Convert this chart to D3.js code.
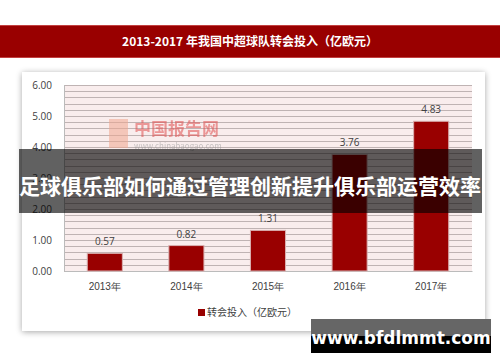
<!DOCTYPE html>
<html><head><meta charset="utf-8">
<script src="https://cdn.jsdelivr.net/npm/d3@7"></script>
<style>
html,body{margin:0;padding:0;background:#fff;}
svg{display:block;font-family:"Noto Sans CJK SC","Noto Sans",sans-serif;}
</style></head>
<body>
<script>
const categories = ["2013年","2014年","2015年","2016年","2017年"];
const values = [0.57, 0.82, 1.31, 3.76, 4.83];
const yTicks = [0,1,2,3,4,5,6];
const title = "2013-2017 年我国中超球队转会投入（亿欧元）";
const seriesName = "转会投入（亿欧元）";
const overlayText = "足球俱乐部如何通过管理创新提升俱乐部运营效率";
const siteText = "www.bfdlmmt.com";

const W = 500, H = 362;
const svg = d3.select("body").append("svg").attr("width", W).attr("height", H);
const defs = svg.append("defs");
const f = defs.append("filter").attr("id","sh").attr("x","-10%").attr("y","-10%").attr("width","120%").attr("height","120%");
f.append("feGaussianBlur").attr("in","SourceAlpha").attr("stdDeviation",3);
f.append("feOffset").attr("dx",0).attr("dy",1).attr("result","b");
f.append("feComponentTransfer").append("feFuncA").attr("type","linear").attr("slope",0.35);
const fm = f.append("feMerge"); fm.append("feMergeNode"); fm.append("feMergeNode").attr("in","SourceGraphic");

// title band
svg.append("rect").attr("x",0).attr("y",25).attr("width",W).attr("height",33).attr("fill","#990000");
svg.append("line").attr("x1",0).attr("x2",W).attr("y1",25.5).attr("y2",25.5).attr("stroke","#c24040");
svg.append("line").attr("x1",0).attr("x2",W).attr("y1",57.5).attr("y2",57.5).attr("stroke","#c24040");
svg.append("text").attr("x",W/2).attr("y",46).attr("text-anchor","middle").attr("fill","#fff")
  .attr("font-size",12).attr("font-weight","bold").text(title);

// panel
svg.append("rect").attr("x",22).attr("y",72).attr("width",463).attr("height",259).attr("fill","#fff").attr("filter","url(#sh)");

const m = {l:64, r:472, t:85, b:271};
const x = d3.scaleBand().domain(categories).range([m.l, m.r]).paddingInner(0.57).paddingOuter(0.285);
const y = d3.scaleLinear().domain([0,6]).range([m.b, m.t]);

svg.append("rect").attr("x",m.l).attr("y",m.t).attr("width",m.r-m.l).attr("height",m.b-m.t).attr("fill","#f9eded");
const gridVals = d3.range(0, 6.0001, 0.2);
svg.append("g").selectAll("line").data(gridVals).join("line")
  .attr("x1",m.l).attr("x2",m.r).attr("y1",d=>Math.round(y(d))+0.5).attr("y2",d=>Math.round(y(d))+0.5)
  .attr("stroke","#bfb3b3").attr("stroke-width",1);
svg.append("line").attr("x1",m.l+0.5).attr("x2",m.l+0.5).attr("y1",m.t).attr("y2",m.b).attr("stroke","#bbb");

// watermark logo
const wm = svg.append("g").attr("opacity",0.55);
wm.append("rect").attr("x",109).attr("y",119).attr("width",19).attr("height",29).attr("fill","#f0a890");
wm.append("text").attr("x",134).attr("y",135).attr("font-size",17).attr("font-weight","bold").attr("fill","#e05050").text("中国报告网");
wm.append("text").attr("x",134).attr("y",149).attr("font-size",8).attr("fill","#999").text("www.chinabaogao.com");

// y axis
const yAxis = d3.axisLeft(y).tickValues(yTicks).tickFormat(d3.format(".2f")).tickSize(0).tickPadding(12);
const ya = svg.append("g").attr("transform",`translate(${m.l},0)`).call(yAxis);
ya.select(".domain").remove();
ya.selectAll("text").attr("font-size",10).attr("fill","#404040").attr("font-family","Open Sans, sans-serif");

// x axis
const xAxis = d3.axisBottom(x).tickSize(0).tickPadding(12);
const xa = svg.append("g").attr("transform",`translate(0,${m.b})`).call(xAxis);
xa.select(".domain").attr("stroke","#bbb");
xa.selectAll("text").attr("font-size",10).attr("fill","#404040");

// bars
svg.append("g").selectAll("rect").data(values).join("rect")
  .attr("x",(d,i)=>x(categories[i])).attr("y",d=>y(d)).attr("width",x.bandwidth()).attr("height",d=>y(0)-y(d))
  .attr("fill","#990000").attr("stroke","#d9b0b0").attr("stroke-width",1);
svg.append("g").selectAll("text").data(values).join("text")
  .attr("x",(d,i)=>x(categories[i])+x.bandwidth()/2).attr("y",d=>y(d)-8)
  .attr("text-anchor","middle").attr("font-size",10).attr("fill","#404040").attr("font-family","Open Sans, sans-serif")
  .text(d=>d3.format(".2f")(d));

// legend
svg.append("rect").attr("x",181).attr("y",301).attr("width",130).attr("height",22).attr("fill","#fff");
svg.append("rect").attr("x",198).attr("y",309).attr("width",7).attr("height",7).attr("fill","#990000");
svg.append("text").attr("x",207).attr("y",316).attr("font-size",10).attr("fill","#404040").text(seriesName);

// overlay band
svg.append("rect").attr("x",19).attr("y",149).attr("width",463).attr("height",64).attr("fill","rgba(0,0,0,0.62)");
svg.append("text").attr("x",250).attr("y",194).attr("text-anchor","middle").attr("fill","#fff")
  .attr("font-size",21).attr("font-weight","bold").text(overlayText);

// site box
svg.append("rect").attr("x",311).attr("y",319).attr("width",180).attr("height",34).attr("fill","#000");
svg.append("rect").attr("x",311).attr("y",319).attr("width",180).attr("height",17).attr("fill","#666");
svg.append("text").attr("x",401).attr("y",344).attr("text-anchor","middle").attr("fill","#fff")
  .attr("font-size",17).attr("font-weight","bold").attr("font-family","DejaVu Sans, sans-serif").text(siteText);
</script>
</body></html>
